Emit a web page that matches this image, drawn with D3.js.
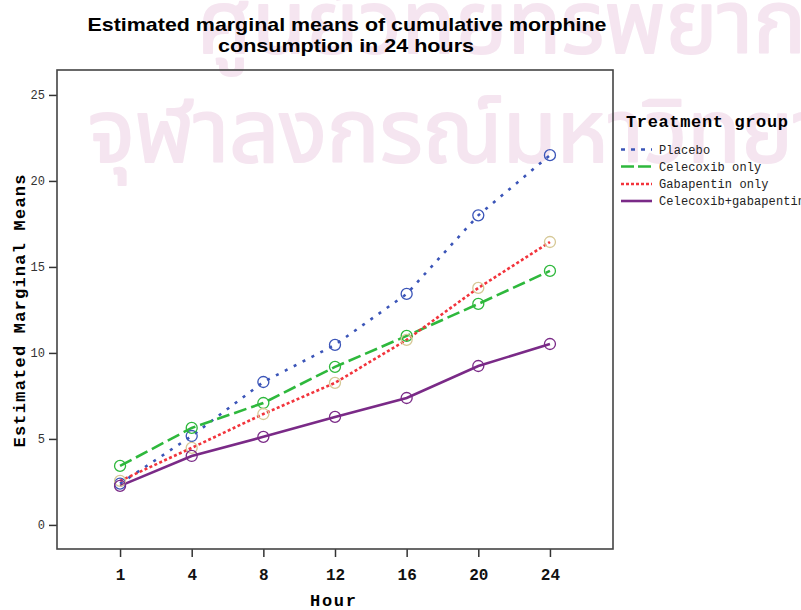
<!DOCTYPE html>
<html>
<head>
<meta charset="utf-8">
<script src="https://cdn.jsdelivr.net/npm/d3@7/dist/d3.min.js"></script>
<style>
  html, body { margin: 0; padding: 0; background: #fff; }
  svg { display: block; }
</style>
</head>
<body>
<svg id="chart" width="801" height="610"></svg>
<script>
// Time points (hours after surgery)
const hours = ["1", "4", "8", "12", "16", "20", "24"];

// Estimated marginal means of cumulative morphine consumption (mg)
const placebo    = [2.40, 5.17, 8.31, 10.47, 13.43, 18.00, 21.50];
const celecoxib  = [3.43, 5.64, 7.09, 9.19, 10.99, 12.85, 14.77];
const gabapentin = [2.56, 4.48, 6.45, 8.26, 10.76, 13.78, 16.45];
const combined   = [2.27, 4.01, 5.12, 6.28, 7.38, 9.24, 10.52];

const groupNames = ["Placebo", "Celecoxib only", "Gabapentin only", "Celecoxib+gabapentin"];
const yTicks = [0, 5, 10, 15, 20, 25];

const titleLines = ["Estimated marginal means of cumulative morphine", "consumption in 24 hours"];
const watermarkLines = ["ศูนย์วิทยทรัพยากร", "จุฬาลงกรณ์มหาวิทยาลัย"];

const series = [
  { name: groupNames[0], values: placebo,    line: "#3b55b8", marker: "#3b55b8", dash: "3,7",   legendDash: "4,6" },
  { name: groupNames[1], values: celecoxib,  line: "#2eb83c", marker: "#2eb83c", dash: "13,5",  legendDash: "13,4" },
  { name: groupNames[2], values: gabapentin, line: "#f2343c", marker: "#d6c896", dash: "3,2.4", legendDash: "3,2" },
  { name: groupNames[3], values: combined,   line: "#7a2a87", marker: "#7a2a87", dash: null,    legendDash: null }
];

const svg = d3.select("#chart");
const mono = "'Liberation Mono', 'Courier New', monospace";

// Faint background watermark
const wm = svg.append("g")
  .attr("fill", "#f5e5f0")
  .attr("stroke", "#f5e5f0")
  .attr("stroke-width", 2)
  .attr("stroke-linejoin", "round")
  .attr("font-family", "'Noto Sans Thai', 'Loma', 'Garuda', 'Noto Sans', sans-serif");
wm.append("text").attr("x", 197).attr("y", 53).attr("font-size", 88).text(watermarkLines[0]);
wm.append("text").attr("x", 88).attr("y", 162).attr("font-size", 88).text(watermarkLines[1]);

// Plot frame geometry
const frame = { left: 57, right: 613, top: 70, bottom: 549 };

const x = d3.scalePoint()
  .domain(hours)
  .range([frame.left, frame.right])
  .padding(0.88);

const y = d3.scaleLinear()
  .domain([-1.4, 26.45])
  .range([frame.bottom, frame.top]);

// Title
const title = svg.append("g")
  .attr("font-family", "'Liberation Sans', Arial, sans-serif")
  .attr("font-weight", "bold")
  .attr("font-size", 19)
  .attr("fill", "#000")
  .attr("text-anchor", "middle");
title.append("text").attr("x", 347).attr("y", 31)
  .attr("textLength", 519).attr("lengthAdjust", "spacingAndGlyphs").text(titleLines[0]);
title.append("text").attr("x", 346).attr("y", 52)
  .attr("textLength", 256).attr("lengthAdjust", "spacingAndGlyphs").text(titleLines[1]);

// Y axis
const yAxis = svg.append("g")
  .attr("transform", `translate(${frame.left},0)`)
  .call(d3.axisLeft(y).tickValues(yTicks).tickSize(8).tickPadding(4).tickSizeOuter(0));
yAxis.select(".domain").remove();
yAxis.selectAll(".tick line").attr("stroke", "#333").attr("stroke-width", 1.5);
yAxis.selectAll(".tick text")
  .attr("font-family", mono).attr("font-size", 12).attr("fill", "#333");

// X axis
const xAxis = svg.append("g")
  .attr("transform", `translate(0,${frame.bottom})`)
  .call(d3.axisBottom(x).tickSize(8).tickPadding(12).tickSizeOuter(0));
xAxis.select(".domain").remove();
xAxis.selectAll(".tick line").attr("stroke", "#333").attr("stroke-width", 1.5);
xAxis.selectAll(".tick text")
  .attr("font-family", mono).attr("font-weight", "bold").attr("font-size", 16).attr("fill", "#111");

// Frame
svg.append("rect")
  .attr("x", frame.left).attr("y", frame.top)
  .attr("width", frame.right - frame.left).attr("height", frame.bottom - frame.top)
  .attr("fill", "none").attr("stroke", "#444").attr("stroke-width", 1.6);

// Axis titles
svg.append("text")
  .attr("x", 333).attr("y", 606)
  .attr("text-anchor", "middle")
  .attr("font-family", mono).attr("font-weight", "bold").attr("font-size", 17)
  .attr("textLength", 46).attr("lengthAdjust", "spacing")
  .text("Hour");

svg.append("text")
  .attr("transform", "translate(25,311) rotate(-90)")
  .attr("text-anchor", "middle")
  .attr("font-family", mono).attr("font-weight", "bold").attr("font-size", 17)
  .attr("textLength", 273).attr("lengthAdjust", "spacing")
  .text("Estimated Marginal Means");

// Lines and markers
const line = d3.line()
  .x((d, i) => x(hours[i]))
  .y(d => y(d));

const plot = svg.append("g");
series.forEach(s => {
  plot.append("path")
    .datum(s.values)
    .attr("d", line)
    .attr("fill", "none")
    .attr("stroke", s.line)
    .attr("stroke-width", 2.6)
    .attr("stroke-dasharray", s.dash);
});
series.forEach(s => {
  plot.selectAll(null)
    .data(s.values)
    .join("circle")
    .attr("cx", (d, i) => x(hours[i]))
    .attr("cy", d => y(d))
    .attr("r", 5.5)
    .attr("fill", "none")
    .attr("stroke", s.marker)
    .attr("stroke-width", 1.3);
});

// Legend
const legend = svg.append("g").attr("font-family", mono);
legend.append("text")
  .attr("x", 626).attr("y", 127)
  .attr("font-weight", "bold").attr("font-size", 17)
  .attr("textLength", 162).attr("lengthAdjust", "spacing")
  .text("Treatment group");

const rowY = [149.5, 166.5, 184, 201];
series.forEach((s, i) => {
  legend.append("line")
    .attr("x1", 621).attr("x2", 652)
    .attr("y1", rowY[i]).attr("y2", rowY[i])
    .attr("stroke", s.line).attr("stroke-width", 2.6)
    .attr("stroke-dasharray", s.legendDash);
  legend.append("text")
    .attr("x", 659).attr("y", rowY[i] + 4)
    .attr("font-size", 12)
    .attr("fill", "#222")
    .attr("textLength", s.name.length * 7.3).attr("lengthAdjust", "spacing")
    .text(s.name);
});
</script>
</body>
</html>
